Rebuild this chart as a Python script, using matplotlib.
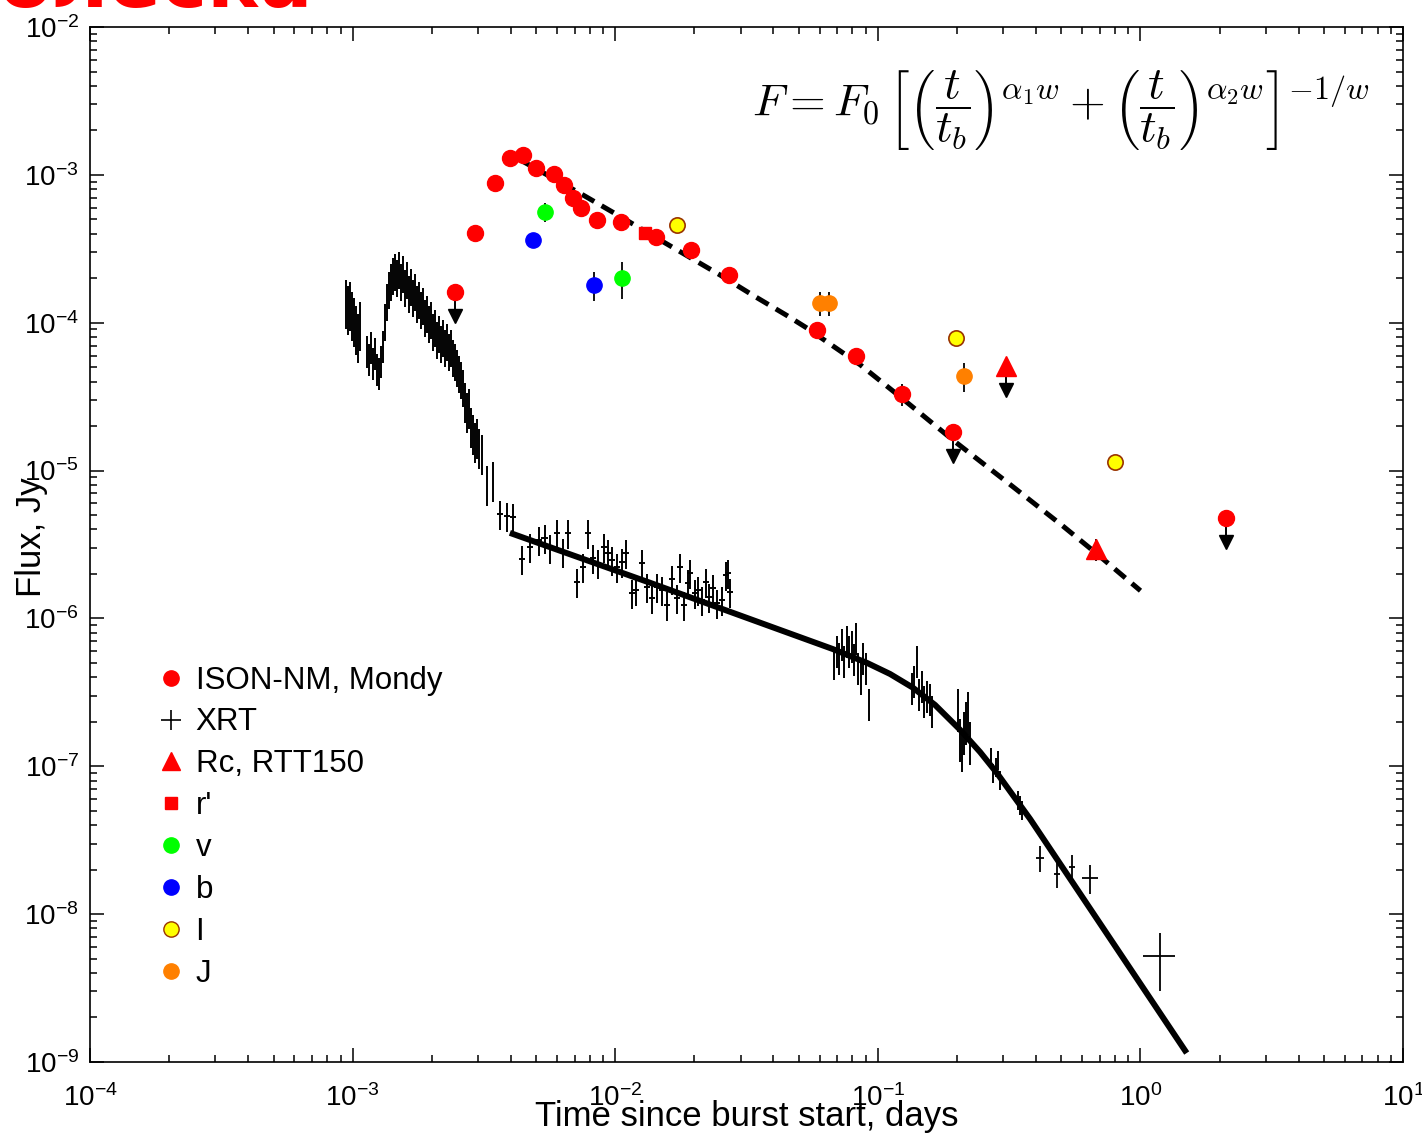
import matplotlib
matplotlib.use("Agg")
import matplotlib.pyplot as plt
from matplotlib.lines import Line2D
import numpy as np

plt.rcParams['font.family'] = ['Liberation Sans', 'DejaVu Sans']
plt.rcParams['mathtext.fontset'] = 'cm'

# ---------------- XRT (days, Jy) ----------------
# first flare around 1e-3 d
xrt_a_t = [9.44e-4, 9.61e-4, 9.78e-4, 9.95e-4, 1.012e-3, 1.030e-3, 1.049e-3, 1.067e-3]
xrt_a_f = [1.424e-4, 1.297e-4, 1.381e-4, 1.182e-4, 1.076e-4, 9.50e-5, 8.39e-5, 1.011e-4]
xrt_b_t = [1.134e-3, 1.155e-3, 1.175e-3, 1.196e-3, 1.217e-3, 1.239e-3, 1.260e-3, 1.283e-3, 1.306e-3]
xrt_b_f = [6.54e-5, 5.77e-5, 6.96e-5, 5.42e-5, 6.34e-5, 4.94e-5, 4.64e-5, 5.60e-5, 7.07e-5]
# rise, peak and decline
xrt_c_t = [1.329e-3, 1.352e-3, 1.376e-3, 1.400e-3, 1.425e-3, 1.451e-3, 1.476e-3, 1.502e-3,
           1.529e-3, 1.556e-3, 1.584e-3, 1.612e-3, 1.640e-3, 1.669e-3, 1.698e-3, 1.728e-3,
           1.759e-3, 1.790e-3, 1.822e-3, 1.854e-3, 1.887e-3, 1.920e-3, 1.954e-3, 1.989e-3,
           2.024e-3, 2.060e-3, 2.096e-3, 2.133e-3, 2.171e-3, 2.210e-3, 2.249e-3, 2.288e-3,
           2.329e-3, 2.370e-3, 2.412e-3, 2.455e-3, 2.498e-3, 2.542e-3, 2.587e-3, 2.633e-3]
xrt_c_f = [1.043e-4, 1.424e-4, 1.717e-4, 1.945e-4, 2.136e-4, 2.272e-4, 2.070e-4, 2.345e-4,
           1.945e-4, 2.203e-4, 1.771e-4, 2.006e-4, 1.613e-4, 1.799e-4, 1.516e-4, 1.664e-4,
           1.381e-4, 1.470e-4, 1.257e-4, 1.339e-4, 1.110e-4, 1.182e-4, 1.011e-4, 1.076e-4,
           8.93e-5, 9.50e-5, 7.88e-5, 8.65e-5, 7.41e-5, 8.13e-5, 6.96e-5, 7.64e-5,
           6.54e-5, 6.96e-5, 5.95e-5, 5.60e-5, 5.10e-5, 4.64e-5, 4.23e-5, 3.73e-5]
xrt_d_t = [2.679e-3, 2.727e-3, 2.775e-3, 2.824e-3, 2.874e-3, 2.924e-3, 2.976e-3, 3.029e-3,
           3.110e-3, 3.249e-3, 3.425e-3]
xrt_d_f = [3.00e-5, 2.57e-5, 2.73e-5, 2.03e-5, 1.82e-5, 1.61e-5, 1.71e-5, 1.47e-5,
           1.34e-5, 8.24e-6, 8.77e-6]
# plateau
xrt_p_t = [3.641e-3, 3.873e-3, 4.081e-3, 4.42e-3, 4.74e-3, 5.13e-3, 5.40e-3, 5.65e-3, 6.00e-3,
           6.33e-3, 6.61e-3, 7.15e-3, 7.54e-3, 7.88e-3, 8.23e-3, 8.60e-3, 9.07e-3, 9.39e-3,
           9.72e-3, 1.016e-2, 1.062e-2, 1.099e-2, 1.159e-2, 1.200e-2, 1.265e-2, 1.322e-2,
           1.381e-2, 1.443e-2, 1.508e-2, 1.575e-2, 1.646e-2, 1.720e-2, 1.766e-2, 1.828e-2,
           1.894e-2, 1.927e-2, 2.013e-2, 2.067e-2, 2.141e-2, 2.217e-2, 2.276e-2, 2.357e-2,
           2.442e-2, 2.551e-2, 2.642e-2, 2.689e-2, 2.737e-2]
xrt_p_f = [5.09e-6, 4.93e-6, 4.85e-6, 2.52e-6, 3.04e-6, 3.39e-6, 3.50e-6, 3.00e-6, 3.78e-6,
           2.81e-6, 3.78e-6, 1.76e-6, 2.23e-6, 3.78e-6, 2.56e-6, 2.37e-6, 3.04e-6, 2.77e-6,
           2.48e-6, 2.23e-6, 2.41e-6, 2.77e-6, 1.49e-6, 1.56e-6, 2.37e-6, 1.63e-6,
           1.375e-6, 1.63e-6, 1.56e-6, 1.23e-6, 1.85e-6, 1.375e-6, 2.23e-6, 1.23e-6,
           1.74e-6, 2.03e-6, 1.49e-6, 1.56e-6, 1.33e-6, 1.76e-6, 1.40e-6, 1.61e-6,
           1.27e-6, 1.33e-6, 1.97e-6, 2.03e-6, 1.51e-6]
# later orbits
xrt_e_t = [6.81e-2, 6.99e-2, 7.12e-2, 7.31e-2, 7.44e-2, 7.63e-2, 7.77e-2, 7.98e-2, 8.12e-2,
           8.26e-2, 8.41e-2, 8.63e-2, 8.78e-2, 9.02e-2, 9.26e-2]
xrt_e_f = [5.08e-7, 6.12e-7, 5.49e-7, 6.82e-7, 5.24e-7, 7.15e-7, 6.12e-7, 6.61e-7, 5.40e-7,
           7.49e-7, 4.69e-7, 4.02e-7, 5.49e-7, 4.69e-7, 2.68e-7]
xrt_g_t = [0.1350, 0.1373, 0.1411, 0.1436, 0.1474, 0.1500, 0.1540, 0.1581, 0.1609]
xrt_g_f = [3.44e-7, 3.83e-7, 5.24e-7, 3.13e-7, 3.55e-7, 2.81e-7, 3.04e-7, 2.90e-7, 2.40e-7]
xrt_h_t = [0.2020, 0.2056, 0.2093, 0.2130, 0.2167, 0.2206, 0.2245]
xrt_h_f = [2.52e-7, 1.58e-7, 1.35e-7, 1.76e-7, 2.06e-7, 2.40e-7, 1.51e-7]
xrt_k_t = [0.2698, 0.2746, 0.2819, 0.2869, 0.2920, 0.3419, 0.3480, 0.3541]
xrt_k_f = [1.156e-7, 9.01e-8, 9.89e-8, 1.103e-7, 8.08e-8, 5.92e-8, 5.47e-8, 5.06e-8]
# relative flux error of each block above
xrt_relerr = [0.36, 0.24, 0.28, 0.30, 0.22, 0.24, 0.24, 0.32, 0.15]
# sparse late points
xrt_s_t = [0.4146, 0.4813, 0.549, 0.643, 1.188]
xrt_s_terr = [0.015, 0.012, 0.014, 0.045, 0.17]
xrt_s_f = [2.40e-8, 1.87e-8, 2.08e-8, 1.76e-8, 5.21e-9]
xrt_s_ferr = [0.48e-8, 0.37e-8, 0.42e-8, 0.40e-8, 2.2e-9]

# ---------------- optical ----------------
mondy_t = [2.92e-3, 3.48e-3, 3.99e-3, 4.46e-3, 4.99e-3, 5.85e-3, 6.38e-3, 6.90e-3, 7.41e-3,
           8.53e-3, 1.05e-2, 1.43e-2, 1.94e-2, 2.71e-2, 5.86e-2, 8.26e-2, 1.24e-1]
mondy_f = [4.04e-4, 8.81e-4, 1.30e-3, 1.36e-3, 1.11e-3, 1.01e-3, 8.54e-4, 6.98e-4, 5.97e-4,
           4.95e-4, 4.80e-4, 3.80e-4, 3.10e-4, 2.10e-4, 8.93e-5, 5.96e-5, 3.30e-5]
mondy_err = [0, 0, 0, 0, 0, 0, 0, 0, 0, 0, 0, 0, 0, 0, 1.2e-5, 0.8e-5, 0.55e-5]
mondy_lim_t = [2.45e-3, 1.93e-1, 2.12]
mondy_lim_f = [1.61e-4, 1.82e-5, 4.78e-6]
rc_t = [0.678]
rc_f = [2.95e-6]
rc_err = [0.5e-6]
rc_lim_t = [0.307]
rc_lim_f = [5.10e-5]
rp_t = [1.30e-2]
rp_f = [4.03e-4]
v_t = [5.41e-3, 1.06e-2]
v_f = [5.61e-4, 2.00e-4]
v_err = [0.8e-4, 0.56e-4]
b_t = [4.86e-3, 8.30e-3]
b_f = [3.62e-4, 1.80e-4]
b_err = [0.3e-4, 0.4e-4]
i_t = [1.72e-2, 0.199, 0.800]
i_f = [4.58e-4, 7.88e-5, 1.14e-5]
j_t = [0.0603, 0.0652, 0.213]
j_f = [1.36e-4, 1.36e-4, 4.36e-5]
j_err = [0.25e-4, 0.25e-4, 0.95e-5]

# ---------------- fitted models ----------------
opt_fit_t = [4.46e-3, 7.35e-3, 1.04e-2, 1.48e-2, 2.51e-2, 3.35e-2, 4.5e-2, 5.37e-2, 8.56e-2,
             0.1215, 0.193, 0.327, 0.507, 0.678, 1.0]
opt_fit_f = [1.23e-3, 7.5e-4, 5.25e-4, 3.63e-4, 2.10e-4, 1.53e-4, 1.12e-4, 9.2e-5, 5.2e-5,
             3.16e-5, 1.61e-5, 7.77e-6, 4.21e-6, 2.76e-6, 1.54e-6]
xrt_fit_t = [3.97e-3, 1.36e-2, 4.25e-2, 6.75e-2, 9.10e-2, 0.1113, 0.136, 0.1651, 0.206,
             0.245, 0.284, 0.380, 1.50]
xrt_fit_f = [3.79e-6, 1.74e-6, 8.35e-7, 6.2e-7, 5.0e-7, 4.21e-7, 3.4e-7, 2.60e-7, 1.76e-7,
             1.249e-7, 9.0e-8, 4.40e-8, 1.15e-9]

fig = plt.figure(figsize=(14.22, 11.39), dpi=100)
ax = fig.add_axes([0.0633, 0.0676, 0.9234, 0.9087])
ax.set_xscale('log')
ax.set_yscale('log')
ax.set_xlim(1e-4, 10)
ax.set_ylim(1e-9, 1e-2)

# XRT points
blocks = [(xrt_a_t, xrt_a_f), (xrt_b_t, xrt_b_f), (xrt_c_t, xrt_c_f), (xrt_d_t, xrt_d_f),
          (xrt_p_t, xrt_p_f), (xrt_e_t, xrt_e_f), (xrt_g_t, xrt_g_f), (xrt_h_t, xrt_h_f),
          (xrt_k_t, xrt_k_f)]
for (t, f), rel in zip(blocks, xrt_relerr):
    t = np.array(t)
    f = np.array(f)
    xe = 0.03 * t if t[0] > 3.5e-3 and t[0] < 0.05 else None
    ax.errorbar(t, f, yerr=rel * f, xerr=xe, fmt='none', ecolor='k', elinewidth=1.4)
ax.errorbar(xrt_s_t, xrt_s_f, yerr=xrt_s_ferr, xerr=xrt_s_terr, fmt='none', ecolor='k',
            elinewidth=1.3)

# fits
ax.plot(xrt_fit_t, xrt_fit_f, '-', color='k', lw=4.3, solid_capstyle='butt', zorder=3)
ax.plot(opt_fit_t, opt_fit_f, '--', color='k', lw=3.6, dashes=(2.8, 1.7), zorder=3)

# upper limits arrows
for t, f in zip(mondy_lim_t + rc_lim_t, mondy_lim_f + rc_lim_f):
    ax.plot([t, t], [f, f * 0.70], color='k', lw=1.4, zorder=4)
    ax.plot([t], [f * 0.69], 'v', color='k', ms=10, zorder=4)

ms = 11.5
ax.errorbar(mondy_t, mondy_f, yerr=mondy_err, fmt='o', ms=ms, mfc='red', mec='red',
            ecolor='k', elinewidth=1.3, zorder=5)
ax.plot(mondy_lim_t, mondy_lim_f, 'o', ms=ms, mfc='red', mec='red', zorder=5)
ax.errorbar(rc_t, rc_f, yerr=rc_err, fmt='^', ms=14, mfc='red', mec='red', ecolor='k',
            elinewidth=1.3, zorder=5)
ax.plot(rc_lim_t, rc_lim_f, '^', ms=14, mfc='red', mec='red', zorder=5)
ax.plot(rp_t, rp_f, 's', ms=9, mfc='red', mec='red', zorder=5)
ax.errorbar(v_t, v_f, yerr=v_err, fmt='o', ms=11, mfc='#00ff00', mec='#00ff00', ecolor='k',
            elinewidth=1.3, zorder=5)
ax.errorbar(b_t, b_f, yerr=b_err, fmt='o', ms=11, mfc='blue', mec='blue', ecolor='k',
            elinewidth=1.3, zorder=5)
ax.plot(i_t, i_f, 'o', ms=11, mfc='yellow', mec='#993300', mew=1.2, zorder=5)
ax.errorbar(j_t, j_f, yerr=j_err, fmt='o', ms=11, mfc='#ff8000', mec='#ff8000', ecolor='k',
            elinewidth=1.3, zorder=5)

# axes styling
for s in ax.spines.values():
    s.set_linewidth(1.2)
ax.tick_params(which='both', direction='in', top=True, right=True, width=1.1)
ax.tick_params(which='major', length=10, labelsize=20, pad=8)
ax.tick_params(axis='x', which='major', pad=16)
ax.tick_params(which='minor', length=5)
ax.set_xlabel('Time since burst start, days', fontsize=25, va='top')
ax.xaxis.set_label_coords(0.5, -0.037)
ax.set_ylabel('Flux, Jy', fontsize=25)
ax.yaxis.set_label_coords(-0.032, 0.507)

ax.text(0.739, 0.92,
        r'$F = F_0\,\left[\left(\dfrac{t}{t_b}\right)^{\alpha_1 w} + '
        r'\left(\dfrac{t}{t_b}\right)^{\alpha_2 w}\right]^{-1/w}$',
        transform=ax.transAxes, fontsize=33, ha='center', va='center')

handles = [
    Line2D([], [], ls='none', marker='o', ms=11, mfc='red', mec='red'),
    Line2D([], [], ls='none', marker='+', ms=14, mew=1.2, color='k'),
    Line2D([], [], ls='none', marker='^', ms=13, mfc='red', mec='red'),
    Line2D([], [], ls='none', marker='s', ms=8, mfc='red', mec='red'),
    Line2D([], [], ls='none', marker='o', ms=11, mfc='#00ff00', mec='#00ff00'),
    Line2D([], [], ls='none', marker='o', ms=11, mfc='blue', mec='blue'),
    Line2D([], [], ls='none', marker='o', ms=11, mfc='yellow', mec='#993300'),
    Line2D([], [], ls='none', marker='o', ms=11, mfc='#ff8000', mec='#ff8000'),
]
labels = ['ISON-NM, Mondy', 'XRT', 'Rc, RTT150', "r'", 'v', 'b', 'I', 'J']
ax.legend(handles, labels, loc='upper left', bbox_to_anchor=(0.0525, 0.383), frameon=False,
          fontsize=22.5, handlelength=0.75, handletextpad=0.42, labelspacing=0.38,
          borderpad=0, borderaxespad=0)

fig.text(-0.002, 1 - 7 / 1139, 'блеска', color='red', fontsize=56, fontweight='bold',
         family='DejaVu Sans', ha='left', va='baseline')

fig.savefig('out.png', dpi=100)
